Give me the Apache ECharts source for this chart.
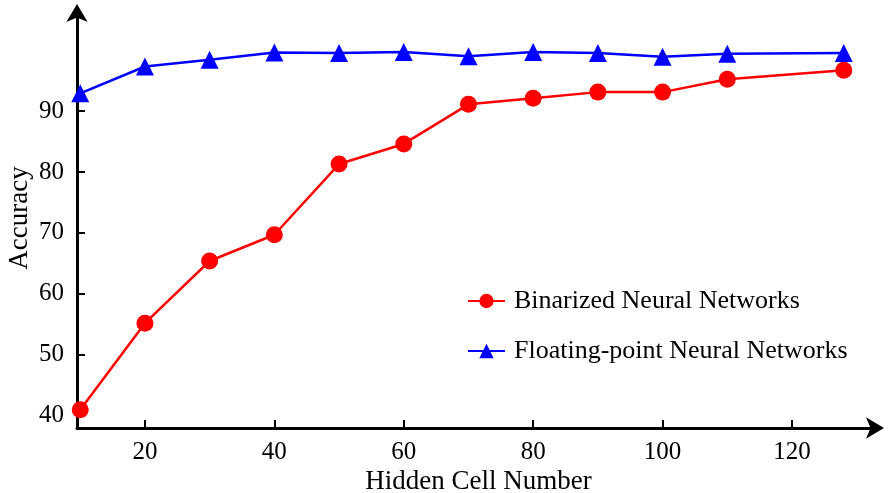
<!doctype html>
<html>
<head>
    <meta charset="utf-8">
    <title>Accuracy vs Hidden Cell Number</title>
    <style>
        html, body { margin: 0; padding: 0; background: #fff; }
        #main { width: 888px; height: 493px; }
    </style>
</head>
<body>
<div id="main"></div>
<script src="https://cdn.jsdelivr.net/npm/echarts@6/dist/echarts.min.js"></script>
<script>
    // hidden cell counts on the x axis
    var hiddenCells = [10, 20, 30, 40, 50, 60, 70, 80, 90, 100, 110, 128];
    var binarized = [41.0, 55.2, 65.4, 69.7, 81.3, 84.6, 91.1, 92.1, 93.1, 93.1, 95.2, 96.7];
    var floating = [92.9, 97.3, 98.4, 99.6, 99.5, 99.7, 99.0, 99.7, 99.5, 98.9, 99.4, 99.5];
    var xTicks = [20, 40, 60, 80, 100, 120];
    var yTicks = [40, 50, 60, 70, 80, 90];

    function pairs(ys) {
        return hiddenCells.map(function (x, i) { return [x, ys[i]]; });
    }

    var font = 'Liberation Serif';
    var chart = echarts.init(document.getElementById('main'));

    var option = {
        animation: false,
        textStyle: { fontFamily: font, color: '#000' },
        grid: { left: 77, right: 8, top: 8, bottom: 65, containLabel: false, outerBoundsMode: 'none' },
        legend: {
            orient: 'vertical',
            left: 462,
            top: 283,
            itemGap: 24,
            itemWidth: 37,
            itemHeight: 18,
            textStyle: { fontFamily: font, fontSize: 26, color: '#000', padding: [0, 0, 0, 4] },
            data: ['Binarized Neural Networks', 'Floating-point Neural Networks']
        },
        xAxis: {
            type: 'value',
            min: 9.5,
            max: 133.6,
            name: 'Hidden Cell Number',
            nameLocation: 'middle',
            nameGap: 40,
            nameMoveOverlap: false,
            nameTextStyle: { fontFamily: font, fontSize: 27, color: '#000' },
            splitLine: { show: false },
            axisLine: {
                lineStyle: { color: '#000', width: 3 },
                symbol: ['none', 'arrow'],
                symbolSize: [16, 18],
                symbolOffset: [0, 4]
            },
            axisTick: { inside: true, length: 8, customValues: xTicks, lineStyle: { color: '#000', width: 2 } },
            axisLabel: { customValues: xTicks, margin: 12, fontFamily: font, fontSize: 25, color: '#000' }
        },
        yAxis: {
            type: 'value',
            min: 38,
            max: 106.9,
            name: 'Accuracy',
            nameLocation: 'middle',
            nameGap: 44,
            nameMoveOverlap: false,
            nameTextStyle: { fontFamily: font, fontSize: 27, color: '#000' },
            splitLine: { show: false },
            axisLine: {
                lineStyle: { color: '#000', width: 3 },
                symbol: ['none', 'arrow'],
                symbolSize: [16, 18],
                symbolOffset: [0, 4]
            },
            axisTick: { inside: true, length: 8, customValues: yTicks, lineStyle: { color: '#000', width: 2 } },
            axisLabel: { customValues: yTicks, margin: 13, fontFamily: font, fontSize: 25, color: '#000' }
        },
        series: [
            {
                name: 'Binarized Neural Networks',
                type: 'line',
                data: pairs(binarized),
                symbol: 'circle',
                symbolSize: 17,
                color: '#ff0000',
                lineStyle: { width: 2.5, color: '#ff0000' },
                itemStyle: { color: '#ff0000' }
            },
            {
                name: 'Floating-point Neural Networks',
                type: 'line',
                data: pairs(floating),
                symbol: 'triangle',
                symbolSize: 18,
                color: '#0000ff',
                lineStyle: { width: 2.5, color: '#0000ff' },
                itemStyle: { color: '#0000ff' }
            }
        ]
    };
    chart.setOption(option);
</script>
</body>
</html>
